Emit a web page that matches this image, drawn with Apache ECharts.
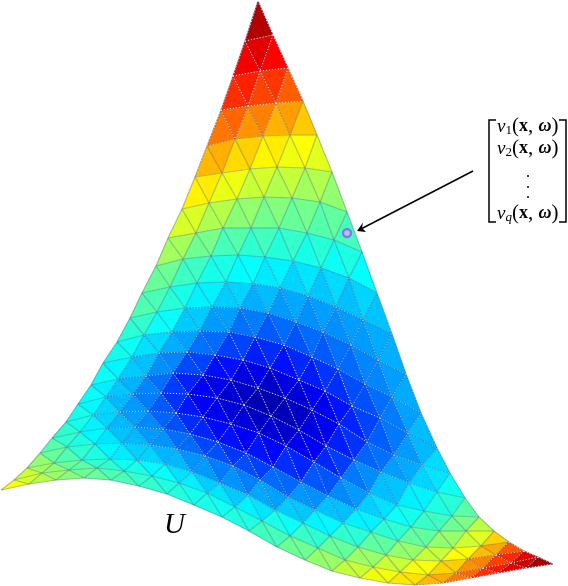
<!DOCTYPE html>
<html><head><meta charset="utf-8">
<style>html,body{margin:0;padding:0;background:#fff}#c{width:568px;height:586px}</style>
<script src="https://cdn.jsdelivr.net/npm/echarts@6/dist/echarts.min.js"></script>
</head><body><div id="c"></div>
<script>
const meshX = [
[258],
[245,273],
[233,260,288],
[221,248,276,303],
[207,235,263,290,317],
[195,222,250,277,305,332],
[182,209,237,264,292,320,347],
[168,196,223,251,279,307,334,362],
[156,183,211,238,265,293,321,349,377],
[142,170,197,226,253,280,308,336,363,392],
[130,157,185,212,240,268,296,323,351,378,406],
[117,144,172,200,229,255,284,312,338,365,392,421],
[103,132,159,187,215,243,270,299,325,352,380,408,437],
[91,118,146,173,203,231,258,285,312,339,367,394,422,450],
[78,106,133,161,188,217,244,271,299,326,354,381,409,437,465],
[66,93,120,148,176,203,231,259,286,314,341,369,397,424,452,479],
[52,80,107,135,163,190,218,246,273,301,328,356,384,411,439,466,494],
[40,67,95,122,150,177,205,233,260,288,315,343,371,398,426,453,481,509],
[27,54,82,110,137,165,192,220,248,275,303,330,358,386,413,441,468,496,524],
[14,42,69,97,124,152,179,207,235,262,290,318,345,373,400,428,456,483,511,538],
[1,29,56,84,111,139,167,194,222,249,277,305,332,360,388,415,443,471,498,526,553]
];
const meshY = [
[1],
[41,35],
[76,71,68],
[110,106,103,101],
[146,139,136,135,135],
[177,173,169,167,168,172],
[209,203,199,197,198,202,212],
[238,233,228,228,228,233,240,252],
[266,259,256,255,257,261,268,278,293],
[293,287,283,282,284,288,296,307,320,334],
[318,312,308,307,308,313,322,332,345,360,374],
[342,335,332,331,332,337,345,357,369,384,397,413],
[363,357,353,352,355,360,368,380,391,406,418,433,448],
[385,379,376,373,375,380,388,398,410,424,442,455,465,473],
[404,397,394,393,394,398,405,416,430,446,460,472,483,492,498],
[422,415,412,411,413,417,424,433,446,462,478,493,505,511,516,517],
[438,432,428,427,429,434,442,453,467,482,496,509,519,527,531,531,531],
[453,447,444,443,445,449,456,466,480,497,510,523,532,541,547,548,546,542],
[468,463,460,459,460,464,472,483,495,510,523,536,547,555,560,561,559,555,551],
[480,473,470,468,471,476,483,493,507,521,536,548,560,567,572,575,573,568,563,557],
[490,484,480,478,480,486,494,505,517,531,547,560,571,578,583,585,583,578,573,568,564]
];
const meshZ = [
[1.0],
[.93,.92],
[.87,.86,.84],
[.82,.80,.77,.74],
[.75,.71,.68,.65,.64],
[.68,.65,.62,.60,.58,.57],
[.63,.60,.56,.53,.52,.50,.48],
[.59,.54,.50,.47,.46,.44,.43,.42],
[.53,.48,.43,.40,.39,.38,.37,.36,.35],
[.47,.43,.39,.37,.35,.32,.30,.29,.29,.31],
[.45,.44,.37,.33,.28,.26,.25,.25,.26,.28,.30],
[.42,.38,.33,.27,.23,.20,.18,.19,.20,.23,.26,.32],
[.41,.35,.31,.25,.19,.14,.12,.12,.14,.17,.21,.27,.34],
[.40,.34,.28,.21,.13,.09,.05,.05,.08,.12,.19,.25,.31,.37],
[.40,.34,.28,.21,.13,.09,.06,.04,.07,.13,.21,.27,.32,.37,.43],
[.42,.37,.30,.25,.18,.13,.11,.10,.11,.15,.21,.31,.36,.40,.44,.52],
[.45,.39,.33,.29,.24,.19,.16,.15,.18,.22,.26,.31,.37,.42,.47,.53,.63],
[.50,.43,.39,.33,.30,.27,.23,.22,.23,.28,.32,.37,.41,.47,.52,.57,.63,.74],
[.56,.49,.44,.38,.36,.34,.31,.29,.30,.34,.36,.42,.47,.52,.57,.62,.68,.76,.87],
[.62,.55,.50,.45,.43,.41,.39,.38,.38,.41,.45,.48,.53,.58,.62,.66,.72,.80,.88,.95],
[.66,.58,.53,.50,.47,.44,.42,.41,.41,.43,.47,.52,.56,.61,.64,.68,.74,.81,.88,.94,1.0]
];
const jetColors = ['#000083','#0000ff','#0080ff','#00ffff','#80ff80','#ffff00','#ff8000','#ff0000','#800000'];
const markedPoint = [[347,233]];
const surfaceLabel = 'U';

const faces = [], edges = [];
function vert(k,i){return [meshX[k][i],meshY[k][i],meshZ[k][i]];}
function face(a,b,c){faces.push([a[0],a[1],b[0],b[1],c[0],c[1],(a[2]+b[2]+c[2])/3]);}
function edge(a,b){edges.push([a[0],a[1],b[0],b[1],(a[2]+b[2])/2]);}
for(let k=0;k<meshX.length-1;k++){
  for(let i=0;i<=k;i++){
    const a=vert(k,i),b=vert(k+1,i),c=vert(k+1,i+1);
    face(a,b,c);
    edge(a,b);edge(a,c);edge(b,c);
    if(i<k){face(a,c,vert(k,i+1));}
  }
}
function dotAlpha(v){return (v<.2||v>.76)?.9:(v<.3||v>.7)?.6:(v<.36)?.4:.14;}

const chart = echarts.init(document.getElementById('c'),null,{renderer:'canvas'});
const serif = '"Liberation Serif","Times New Roman",serif';
const rich = {
  v:{fontFamily:serif,fontStyle:'italic',fontSize:19,fill:'#000'},
  s:{fontFamily:serif,fontSize:13,fill:'#000',padding:[9,0,0,0]},
  q:{fontFamily:serif,fontStyle:'italic',fontSize:13,fill:'#000',padding:[9,0,0,0]},
  p:{fontFamily:serif,fontSize:21,fill:'#000'},
  b:{fontFamily:serif,fontWeight:'bold',fontSize:18,fill:'#000'},
  o:{fontFamily:serif,fontStyle:'italic',fontWeight:'bold',fontSize:18,fill:'#000'}
};
function matrixEntry(sub,tag,y){
  return {type:'text',left:497,top:y,silent:true,style:{
    text:`{v|v}{${tag}|${sub}}{p|(}{b|x}{p|, }{o|ω}{p|)}`,rich:rich}};
}
chart.setOption({
  animation:false,
  backgroundColor:'#fff',
  grid:{left:0,right:0,top:0,bottom:0},
  xAxis:{type:'value',min:0,max:568,show:false},
  yAxis:{type:'value',min:0,max:586,inverse:true,show:false},
  visualMap:{show:false,type:'continuous',min:0,max:1,dimension:6,seriesIndex:0,inRange:{color:jetColors}},
  series:[
   {type:'custom',coordinateSystem:'cartesian2d',silent:true,clip:false,data:faces,
    renderItem(p,api){
      const pts=[api.coord([api.value(0),api.value(1)]),api.coord([api.value(2),api.value(3)]),api.coord([api.value(4),api.value(5)])];
      const col=api.visual('color');
      return {type:'polygon',shape:{points:pts},style:{fill:col,stroke:col,lineWidth:.6}};
    }},
   {type:'custom',coordinateSystem:'cartesian2d',silent:true,clip:false,data:edges,
    renderItem(p,api){
      const a=api.coord([api.value(0),api.value(1)]),b=api.coord([api.value(2),api.value(3)]);
      const v=api.value(4);
      const sh={x1:a[0],y1:a[1],x2:b[0],y2:b[1]};
      return {type:'group',children:[
        {type:'line',shape:sh,style:{stroke:'rgba(60,80,120,.34)',lineWidth:1.2}},
        {type:'line',shape:sh,style:{stroke:'rgba(255,255,255,'+dotAlpha(v)+')',lineWidth:1,lineDash:[1,2]}}
      ]};
    }},
   {type:'scatter',coordinateSystem:'cartesian2d',silent:true,data:markedPoint,symbolSize:8,
    itemStyle:{color:'#b4c2ee',borderColor:'#7f78f0',borderWidth:2.4,opacity:1},z:5}
  ],
  graphic:{elements:[
    {type:'text',left:164,top:511,silent:true,style:{text:surfaceLabel,font:'italic 29px '+serif,fill:'#000'}},
    {type:'line',silent:true,shape:{x1:473,y1:171,x2:359,y2:230},style:{stroke:'#000',lineWidth:1.5}},
    {type:'polygon',silent:true,shape:{points:[[357,231],[363,222.5],[362,228],[366,232]]},style:{fill:'#000'}},
    {type:'polyline',silent:true,shape:{points:[[496,120],[489,120],[489,222],[496,222]]},style:{stroke:'#000',lineWidth:1.5,fill:null}},
    {type:'polyline',silent:true,shape:{points:[[559,120],[566,120],[566,222],[559,222]]},style:{stroke:'#000',lineWidth:1.5,fill:null}},
    matrixEntry('1','s',116),
    matrixEntry('2','s',138),
    matrixEntry('q','q',203),
    {type:'circle',silent:true,shape:{cx:528,cy:176,r:1},style:{fill:'#000'}},
    {type:'circle',silent:true,shape:{cx:528,cy:187,r:1},style:{fill:'#000'}},
    {type:'circle',silent:true,shape:{cx:528,cy:197,r:1},style:{fill:'#000'}}
  ]}
});
</script></body></html>
